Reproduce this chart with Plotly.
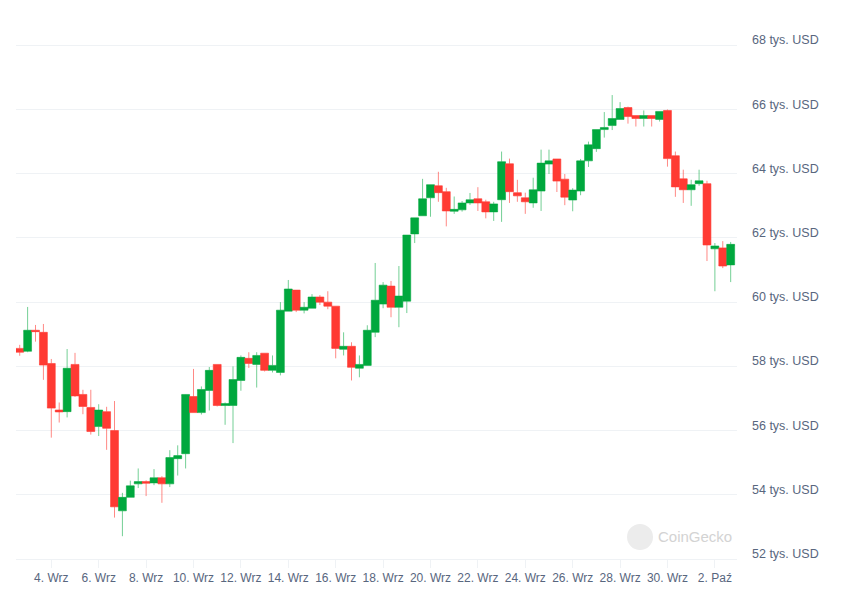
import pandas as pd
import plotly.graph_objects as go

# 8-hour candles, BTC price in USD
start_time = "2024-09-02 16:00"
opens = [58.56, 58.47, 59.125, 59.06, 58.09, 56.64, 56.59, 58.06, 57.125, 56.72,
         56.125, 56.59, 56.0, 53.5, 53.92, 54.34, 54.41, 54.37, 54.53, 54.34,
         55.125, 55.28, 57.06, 56.56, 57.25, 58.06, 56.78, 56.78, 57.56, 58.25,
         58.06, 58.41, 57.875, 57.81, 59.72, 60.375, 59.75, 59.81, 60.16, 60.0,
         59.875, 58.53, 58.625, 57.94, 58.03, 59.06, 59.94, 60.5, 59.84, 60.03,
         62.125, 62.69, 63.25, 63.625, 63.44, 62.83, 62.875, 63.09, 63.22, 63.125,
         62.81, 63.19, 64.31, 63.41, 63.25, 63.09, 63.46, 64.30, 64.46, 63.83,
         63.18, 63.46, 64.40, 64.78, 65.375, 65.5, 65.69, 66.06, 65.81, 65.72,
         65.81, 65.69, 65.97, 64.56, 63.84, 63.5, 63.69, 63.69, 61.66, 61.69,
         61.16]
highs = [58.67, 59.85, 59.29, 59.32, 58.23, 56.875, 58.54, 58.42, 57.27, 57.27,
         56.82, 56.74, 56.92, 54.06, 54.44, 54.82, 54.45, 54.80, 54.58, 55.39,
         55.54, 57.13, 57.92, 57.375, 57.98, 58.06, 56.875, 58.0, 58.34, 58.44,
         58.44, 58.41, 58.34, 60.0, 60.69, 60.375, 60.0, 60.25, 60.22, 60.34,
         59.875, 59.06, 58.75, 58.34, 59.28, 61.22, 60.625, 60.66, 61.125, 62.09,
         62.625, 63.84, 63.66, 64.06, 63.56, 63.29, 63.15, 63.40, 63.58, 63.19,
         63.125, 64.69, 64.47, 63.81, 63.41, 63.875, 64.75, 64.75, 64.46, 63.99,
         63.55, 64.46, 65.0, 65.375, 65.92, 66.45, 66.23, 66.09, 65.81, 65.97,
         65.81, 65.94, 66.0, 64.69, 64.125, 63.81, 64.125, 63.78, 61.84, 61.90,
         61.875]
lows = [58.33, 58.44, 58.77, 57.58, 55.78, 56.25, 56.41, 57.05, 56.51, 55.875,
        55.83, 55.40, 53.29, 52.71, 53.92, 54.21, 53.96, 54.30, 53.75, 54.24,
        54.60, 54.82, 56.56, 56.5, 56.625, 56.75, 56.18, 55.61, 57.24, 57.95,
        57.34, 57.84, 57.81, 57.72, 59.72, 59.69, 59.65, 59.81, 59.91, 59.78,
        58.25, 58.34, 57.56, 57.66, 58.03, 58.91, 59.81, 59.53, 59.22, 59.66,
        61.84, 62.69, 62.66, 63.125, 62.36, 62.75, 62.82, 63.03, 62.84, 62.61,
        62.53, 62.5, 63.09, 63.125, 62.75, 62.94, 62.84, 63.99, 63.43, 63.02,
        62.83, 63.33, 64.21, 64.68, 65.125, 65.36, 65.69, 65.56, 65.47, 65.47,
        65.47, 65.625, 64.22, 63.28, 63.09, 63.0, 63.625, 61.28, 60.34, 61.06,
        60.625]
closes = [58.44, 59.125, 59.08, 58.04, 56.70, 56.58, 57.94, 57.08, 56.75, 55.97,
          56.64, 56.07, 53.625, 53.92, 54.28, 54.41, 54.36, 54.53, 54.34, 55.16,
          55.22, 57.125, 56.56, 57.28, 57.875, 56.78, 56.84, 57.59, 58.28, 58.09,
          58.34, 57.875, 58.03, 59.75, 60.41, 59.75, 59.84, 60.16, 60.0, 59.875,
          58.56, 58.625, 57.97, 58.06, 59.125, 60.06, 60.53, 59.84, 60.19, 62.09,
          62.625, 63.22, 63.66, 63.41, 62.84, 62.89, 63.09, 63.19, 63.09, 62.81,
          63.06, 64.375, 63.44, 63.31, 63.125, 63.5, 64.33, 64.40, 63.77, 63.27,
          63.49, 64.40, 64.90, 65.375, 65.44, 65.72, 66.03, 65.78, 65.72, 65.81,
          65.72, 65.94, 64.47, 63.59, 63.5, 63.66, 63.78, 61.78, 61.75, 61.125,
          61.80]

tick_dates = ["2024-09-04", "2024-09-06", "2024-09-08", "2024-09-10", "2024-09-12",
              "2024-09-14", "2024-09-16", "2024-09-18", "2024-09-20", "2024-09-22",
              "2024-09-24", "2024-09-26", "2024-09-28", "2024-09-30", "2024-10-02"]
tick_labels = ["4. Wrz", "6. Wrz", "8. Wrz", "10. Wrz", "12. Wrz", "14. Wrz",
               "16. Wrz", "18. Wrz", "20. Wrz", "22. Wrz", "24. Wrz", "26. Wrz",
               "28. Wrz", "30. Wrz", "2. Paź"]
y_ticks = [52, 54, 56, 58, 60, 62, 64, 66, 68]
y_labels = [f"{v} tys. USD" for v in y_ticks]

times = pd.date_range(start_time, periods=len(opens), freq="8h")
scale = 1000
o = [v * scale for v in opens]
h = [v * scale for v in highs]
l = [v * scale for v in lows]
c = [v * scale for v in closes]

GREEN = "#00a83e"
RED = "#ff3a33"
TEXT = "#58667e"
GRID = "#eff2f5"
FONT = "Arial, Liberation Sans, sans-serif"

fig = go.Figure(go.Candlestick(
    x=times, open=o, high=h, low=l, close=c,
    increasing=dict(fillcolor=GREEN, line=dict(color="rgba(0,168,62,0.55)", width=1)),
    decreasing=dict(fillcolor=RED, line=dict(color="rgba(255,58,51,0.6)", width=1)),
    whiskerwidth=0,
    showlegend=False,
))

t0 = times[0]
step = pd.Timedelta(hours=8)
x_range = [t0 - step * 0.47, t0 + step * 90.8]

annotations = [dict(
    text=lab, xref="paper", yref="y", x=1, y=v * scale,
    xanchor="left", yanchor="middle", xshift=13, yshift=5,
    showarrow=False, font=dict(size=12.5, color=TEXT, family=FONT),
) for v, lab in zip(y_ticks, y_labels)]
annotations.append(dict(
    text="CoinGecko", xref="paper", yref="paper",
    x=0.888, y=0.0428, xanchor="left", yanchor="middle",
    showarrow=False, font=dict(size=15, color="#d3d3d3", family=FONT),
))

fig.update_layout(
    width=855, height=596,
    margin=dict(l=16, r=118, t=44, b=37),
    paper_bgcolor="white", plot_bgcolor="white",
    boxgap=0, boxgroupgap=0,
    font=dict(family=FONT, size=12, color=TEXT),
    xaxis=dict(
        range=x_range, rangeslider=dict(visible=False),
        tickvals=pd.to_datetime(tick_dates), ticktext=tick_labels,
        showgrid=False, zeroline=False,
        showline=True, linecolor=GRID, linewidth=1,
        ticks="outside", ticklen=8, tickcolor=GRID, tickwidth=1,
        tickfont=dict(size=12, color=TEXT),
    ),
    yaxis=dict(
        side="right", range=[52 * scale, 68.04 * scale],
        tickvals=[v * scale for v in y_ticks],
        showgrid=True, gridcolor=GRID, gridwidth=1,
        zeroline=False, showline=False,
        ticks="", showticklabels=False,
    ),
    shapes=[dict(
        type="circle", xref="paper", yref="paper",
        xsizemode="pixel", ysizemode="pixel",
        xanchor=0.8655, yanchor=0.0428,
        x0=-13, x1=13, y0=-13, y1=13,
        fillcolor="#ececec", line=dict(width=0), layer="above",
    )],
    annotations=annotations,
)

fig.write_html("out.html")
